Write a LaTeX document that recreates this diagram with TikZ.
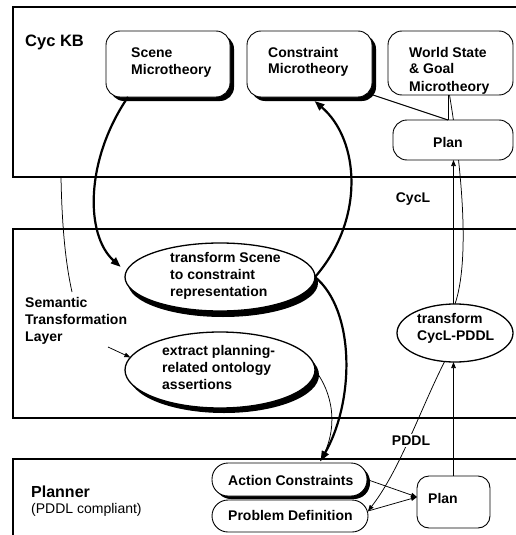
\documentclass[tikz,border=0pt]{standalone}
\usepackage{fontspec}
\setmainfont{Liberation Sans}
\usetikzlibrary{shapes.geometric,arrows.meta,shadows,backgrounds}
\newcommand\mlines[1]{\begin{tabular}[t]{@{}l@{}}#1\end{tabular}}
\begin{document}
\begin{tikzpicture}[x=1pt,y=-1pt,
  frame/.style={line width=1.6pt},
  txt/.style={font=\fontsize{14}{17}\selectfont\bfseries, inner sep=0pt, anchor=base west},
  rbox/.style={draw, fill=white, rectangle, rounded corners=14pt, line width=0.9pt, inner sep=0pt, outer sep=0pt},
  oval/.style={draw, fill=white, ellipse, line width=1.3pt, inner sep=0pt, outer sep=0pt},
  shadowA/.style={drop shadow={shadow xshift=4pt,shadow yshift=-4pt,fill=black,opacity=1}},
  thickarc/.style={line width=2.2pt, -{Triangle[length=10pt,width=7.5pt]}},
  thinarc/.style={line width=0.75pt},
  thinarrow/.style={line width=0.75pt, -{Triangle[length=6pt,width=4.5pt]}},
]
\useasboundingbox (0,0) rectangle (516,535);
% layer frames
\draw[frame] (517,7) -- (13,7) -- (13,177) -- (517,177);
\draw[frame] (517,229) -- (13,229) -- (13,418) -- (517,418);
\draw[frame] (517,459) -- (13,459) -- (13,537);

% labels
\node[font=\fontsize{16.5}{19}\selectfont\bfseries, inner sep=0pt, anchor=base west] (cyckb) at (25,47) {Cyc KB};
\node[txt, anchor=base] (cycl) at (413,202) {CycL};
\node[txt] (stl) at (25,307) {\mlines{Semantic\\Transformation\\Layer}};
\node[font=\fontsize{16}{19}\selectfont\bfseries, inner sep=0pt, anchor=base west] (planner) at (31,497) {Planner};
\node[font=\fontsize{14}{17}\selectfont, inner sep=0pt, anchor=base west] (pddlc) at (31,513) {(PDDL compliant)};

% Cyc KB boxes
\node[rbox, shadowA, minimum width=124pt, minimum height=66pt] (scene) at (168,64) {};
\node[txt] (scenet) at (131,58) {\mlines{Scene\\Microtheory}};
\node[rbox, shadowA, minimum width=125pt, minimum height=66pt] (cm) at (309.5,64) {};
\node[txt] (cmt) at (268,57) {\mlines{Constraint\\Microtheory}};
\node[rbox, minimum width=125pt, minimum height=64pt] (ws) at (450.5,63) {};
\node[txt] (wst) at (409,57) {\mlines{World State\\\& Goal\\Microtheory}};
\node[rbox, minimum width=120pt, minimum height=40pt] (planT) at (453,140) {};
\node[txt] (planTt) at (433,147) {Plan};

% semantic layer ellipses
\node[oval, minimum width=190pt, minimum height=68pt,
  drop shadow={shadow xshift=3pt,shadow yshift=-6pt,fill=black,opacity=1}] (ts) at (220,277) {};
\node[txt] (tst) at (170,262) {\mlines{transform Scene\\to constraint\\representation}};
\node[oval, minimum width=190pt, minimum height=76pt,
  drop shadow={shadow xshift=4pt,shadow yshift=-5pt,fill=black,opacity=1}] (ex) at (220,370) {};
\node[txt] (ext) at (162,355) {\mlines{extract planning-\\related ontology\\assertions}};
\node[oval, minimum width=116pt, minimum height=58pt] (tc) at (455,333) {};
\node[txt] (tct) at (417,323) {\mlines{transform\\CycL-PDDL}};

% planner boxes
\node[rbox, rounded corners=16pt, minimum width=155pt, minimum height=33pt,
  drop shadow={shadow xshift=3pt,shadow yshift=-3pt,fill=black,opacity=1}] (ac) at (289.5,479.5) {};
\node[txt] (act) at (228,485) {Action Constraints};
\node[rbox, rounded corners=16pt, minimum width=156pt, minimum height=32pt] (pd) at (290,516) {};
\node[txt] (pdt) at (228,520) {Problem Definition};
\node[rbox, rounded corners=12pt, minimum width=73pt, minimum height=52pt] (planB) at (453.5,502) {};
\node[txt] (planBt) at (428,503) {Plan};

% coordinates for free ends
\coordinate (jn) at ([xshift=-5pt]planT.north);
\coordinate (stlA) at (61,177);
\coordinate (stlB) at (72,292);
\coordinate (sa) at (108,347);

% behind-node curve
\begin{pgfonlayer}{background}
\draw[thinarc] ([xshift=-1pt]ws.south) .. controls (462,170) and (470,260) .. (tc.north);
\end{pgfonlayer}

% connectors
\draw[line width=1.1pt] ([xshift=-2pt,yshift=3pt]cm.south east) -- (jn);
\draw[line width=0.9pt] (ws.south -| jn) -- (jn);
\draw[thinarc] (stlA) .. controls (62,230) and (66,265) .. (stlB);
\draw[thinarrow] (sa) -- (ex.172);
\draw[thinarc] (ex.east) .. controls (332,392) and (340,427) .. ([xshift=31pt,yshift=2pt]ac.north);
\draw[thickarc] ([xshift=-40pt]scene.south) .. controls (85,160) and (85,235) .. ([xshift=-7pt,yshift=2pt]ts.175);
\draw[thickarc] (ts.east) .. controls (365,220) and (360,140) .. ([xshift=5pt,yshift=-4pt]cm.south);
\draw[thickarc] (ts.east) .. controls (355,310) and (355,400) .. ([xshift=31pt,yshift=2pt]ac.north);
\draw[thinarrow] (planB.north) -- (planB.north |- tc.south);
\draw[thinarrow] (planB.north |- tc.north) -- (planB.north |- planT.south);
\draw[thinarrow] (tc.250) .. controls (420,410) and (400,470) .. ([yshift=5pt]pd.east);
\draw[thinarrow] (ac.east) -- ([yshift=5pt]planB.west);
\draw[thinarrow] ([yshift=5pt]pd.east) -- ([yshift=5pt]planB.west);

% label over the PDDL connector
\node[txt, anchor=base, fill=white, inner sep=1.5pt] (pddl) at (411,445) {PDDL};
\end{tikzpicture}
\end{document}
